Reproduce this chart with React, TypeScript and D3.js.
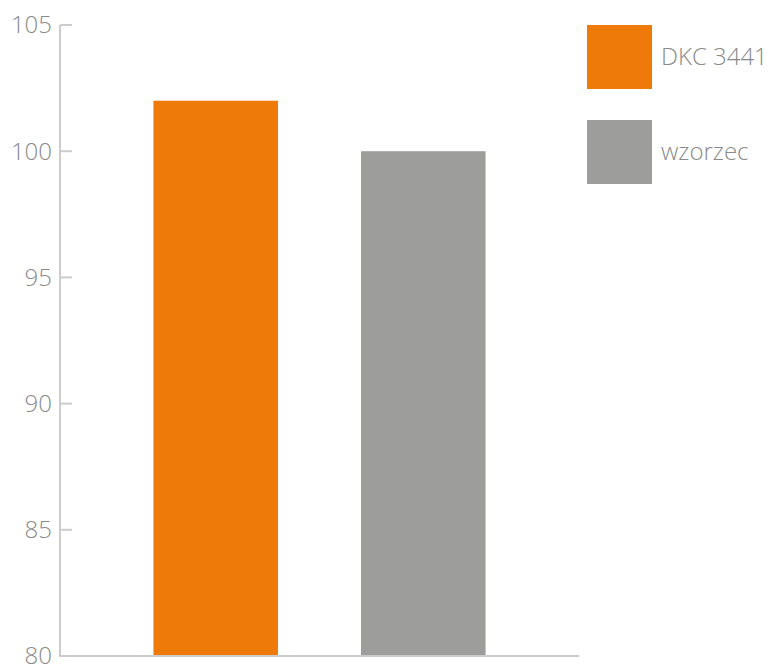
import React from "react";
import * as d3 from "d3";

const categories = ["DKC 3441", "wzorzec"];
const values = [102, 100];
const colors = ["#ee7a0a", "#9d9d9b"];
const yTicks = [80, 85, 90, 95, 100, 105];

const W = 768;
const H = 666;

export default function App() {
  const x = d3.scaleBand<string>().domain(categories).range([60, 579]).paddingInner(0.4).paddingOuter(0.45);
  const y = d3.scaleLinear().domain([80, 105]).range([656, 25]);
  const font = "'Open Sans', sans-serif";
  const textColor = "#8a8a8a";
  const axisColor = "#cccccc";
  return (
    <svg width={W} height={H} style={{ position: "absolute", left: 0, top: 0, background: "#fff" }}>
      {categories.map((c, i) => (
        <rect key={c} x={x(c)} y={y(values[i])} width={x.bandwidth()} height={y(80) - y(values[i])} fill={colors[i]} />
      ))}
      <line x1={60} x2={60} y1={y(105)} y2={y(80) + 1} stroke={axisColor} strokeWidth={2} />
      <line x1={59} x2={579} y1={y(80)} y2={y(80)} stroke={axisColor} strokeWidth={2} />
      {yTicks.map((t) => (
        <g key={t}>
          {t !== 80 && <line x1={60} x2={72} y1={y(t)} y2={y(t)} stroke={axisColor} strokeWidth={2} />}
          <text x={52} y={y(t)} dy="0.35em" textAnchor="end" fontFamily={font} fontWeight={300} fontSize={24} fill={textColor}>
            {t}
          </text>
        </g>
      ))}
      {categories.map((c, i) => (
        <g key={"lg" + c} transform={`translate(587, ${25 + i * 95})`}>
          <rect width={65} height={64} fill={colors[i]} />
          <text x={74} y={32} dy="0.35em" fontFamily={font} fontWeight={300} fontSize={24} fill={textColor}>
            {c}
          </text>
        </g>
      ))}
    </svg>
  );
}
